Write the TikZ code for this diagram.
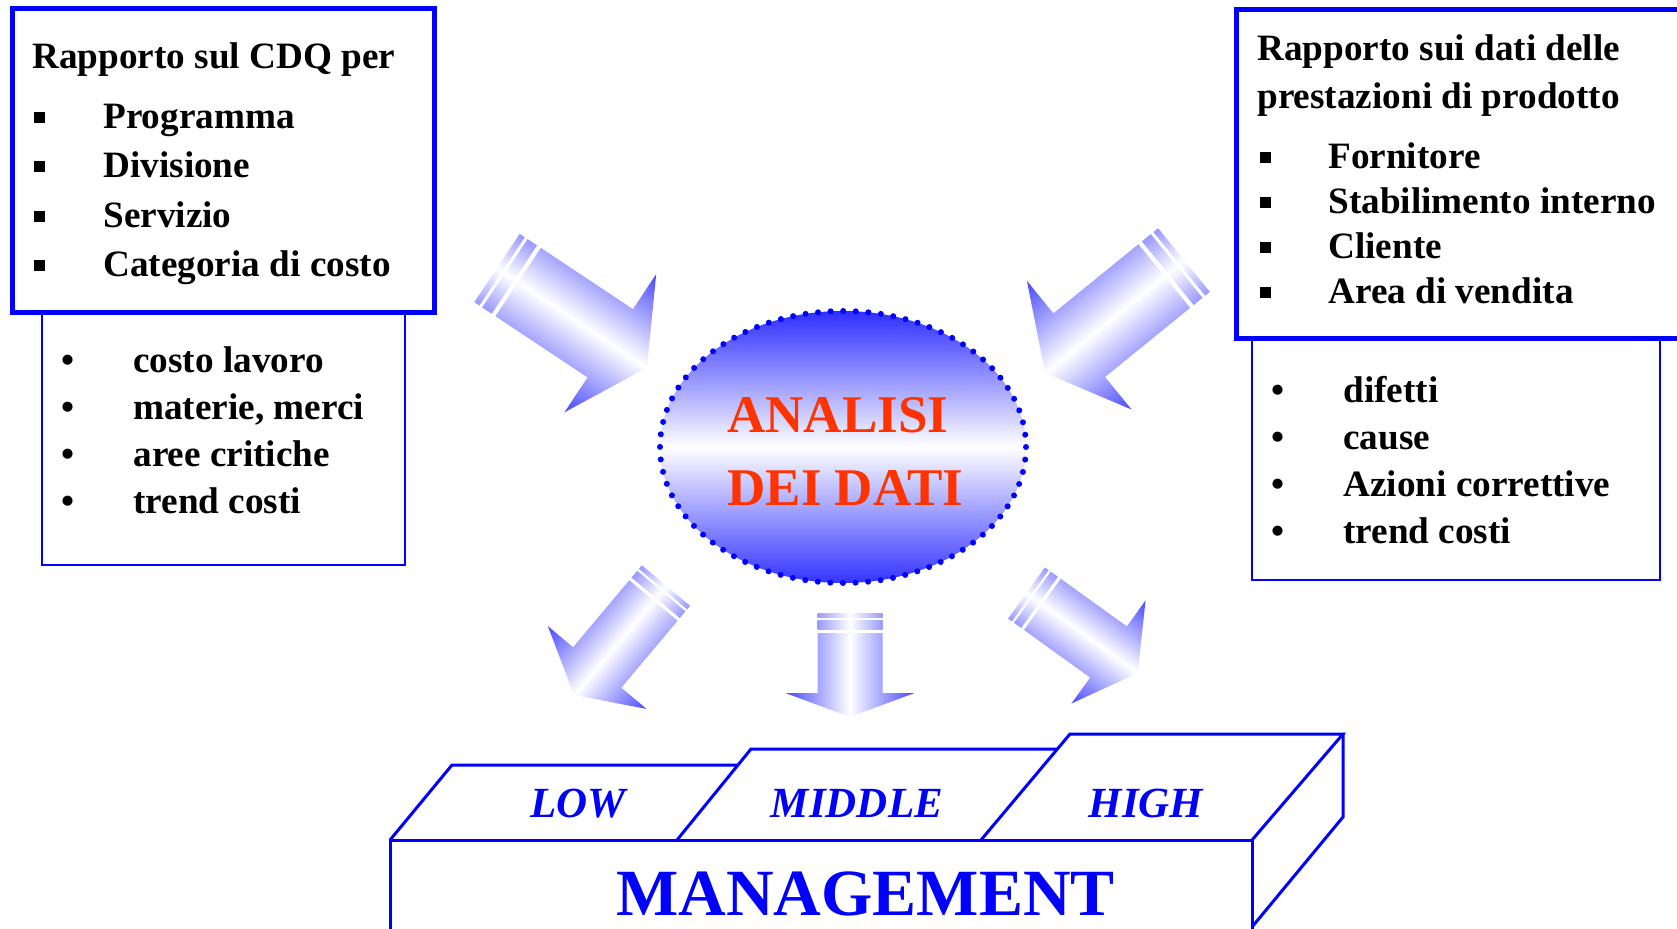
\documentclass[tikz,border=0pt]{standalone}
\usepackage{fontspec}
\setmainfont{Liberation Serif}
\usetikzlibrary{shapes.geometric}

\tikzset{
  thickbox/.style={draw=blue, line width=2.5pt},
  thinbox/.style={draw=blue, line width=1.3pt},
  boxtxt/.style={anchor=base west, inner sep=0pt, font=\fontsize{18.6}{22}\selectfont\bfseries},
  mgmtline/.style={draw=blue, line width=1.5pt, line join=miter},
  levtxt/.style={anchor=base, inner sep=0pt, text=blue, font=\fontsize{21.5}{25}\selectfont\bfseries\itshape},
  datitxt/.style={anchor=base west, inner sep=0pt, text=datired, font=\fontsize{26.5}{30}\selectfont\bfseries},
  dotellipse/.style={ellipse, minimum width=183pt, minimum height=136pt, inner sep=0pt,
    top color=blue!82, bottom color=blue!80, middle color=white},
  dotrim/.style={draw=blue, line width=3pt, dash pattern=on 0pt off 6.3pt, line cap=round},
  arrowfill/.style={top color=blue!72, bottom color=blue!72, middle color=white},
  stripefill/.style={top color=blue!40, bottom color=blue!40, middle color=white}
}
\definecolor{datired}{RGB}{255,51,0}

\newcommand{\sqbul}{\rule[2.7pt]{5.5pt}{5.5pt}}
% tail x, tail y, angle, length, shaft width, head width, head length
\newcommand{\fatarrow}[7]{%
  \begin{scope}[transform canvas={shift={(#1,#2)},rotate=#3}]
    \pgfmathsetmacro{\arW}{#5/2}
    \pgfmathsetmacro{\arH}{#6/2}
    \pgfmathsetmacro{\arA}{0.075*#5}
    \pgfmathsetmacro{\arB}{0.115*#5}
    \pgfmathsetmacro{\arC}{0.255*#5}
    \pgfmathsetmacro{\arT}{0.31*#5}
    \pgfmathsetmacro{\arK}{#4-#7}
    \shade[stripefill] (0,-\arW) rectangle (\arA,\arW);
    \shade[stripefill] (\arB,-\arW) rectangle (\arC,\arW);
    \shade[arrowfill] (\arT,-\arW) -- (\arK,-\arW) -- (\arK,-\arH) -- (#4,0)
      -- (\arK,\arH) -- (\arK,\arW) -- (\arT,\arW) -- cycle;
  \end{scope}}

\begin{document}
\begin{tikzpicture}[x=0.5pt, y=-0.5pt]
  \useasboundingbox (0,0) rectangle (1677,928);

  % Left report boxes
  \draw[thinbox] (42,312) rectangle (405,565);
  \draw[thickbox] (12,8.5) rectangle (434.5,312);
  \node[boxtxt] (cdq) at (32,68) {Rapporto sul CDQ per};
  \foreach \lbl [count=\i] in {Programma, Divisione, Servizio, Categoria di costo} {
    \node[boxtxt] (cdqsq\i) at (34,{128+49.5*(\i-1)}) {\sqbul};
    \node[boxtxt] (cdq\i) at (103,{128+49.5*(\i-1)}) {\lbl};
  }
  \foreach \lbl [count=\i] in {costo lavoro, {materie, merci}, aree critiche, trend costi} {
    \node[boxtxt] (costb\i) at (61,{372+47.3*(\i-1)}) {•};
    \node[boxtxt] (cost\i) at (133,{372+47.3*(\i-1)}) {\lbl};
  }

  % Right report boxes
  \draw[thinbox] (1252,338) rectangle (1660,580);
  \draw[thickbox] (1236.5,9) rectangle (1690,338);
  \node[boxtxt] (prest) at (1257,60) {Rapporto sui dati delle};
  \node[boxtxt] (prest2) at (1257,108) {prestazioni di prodotto};
  \foreach \lbl [count=\i] in {Fornitore, Stabilimento interno, Cliente, Area di vendita} {
    \node[boxtxt] (prestsq\i) at (1260,{168+45*(\i-1)}) {\sqbul};
    \node[boxtxt] (prest\i) at (1328,{168+45*(\i-1)}) {\lbl};
  }
  \foreach \lbl [count=\i] in {difetti, cause, Azioni correttive, trend costi} {
    \node[boxtxt] (difb\i) at (1271,{402+47*(\i-1)}) {•};
    \node[boxtxt] (dif\i) at (1343,{402+47*(\i-1)}) {\lbl};
  }

  % Arrows
  \fatarrow{497}{268}{-33.6}{180}{82}{166}{44}
  \fatarrow{1184}{260}{-140.9}{179}{82}{166}{44}
  \fatarrow{666}{585.5}{-130}{143}{63}{129}{36}
  \fatarrow{850}{613}{-90}{104}{65}{129}{24}
  \fatarrow{1026.5}{593}{-35.7}{137}{63}{127}{36}

  % Central ellipse
  \node[dotellipse] (dati) at (843,447) {};
  \draw[dotrim] (dati.center) ellipse [x radius=183, y radius=136];
  \node[datitxt] (analisi) at (727,432) {ANALISI};
  \node[datitxt] (deidati) at (727,505) {DEI DATI};

  % Management block
  \draw[mgmtline] (390,940) -- (390,840) -- (1252,840) -- (1252,940);
  \draw[mgmtline] (390,840) -- (452,765) -- (737,765);
  \draw[mgmtline] (677,840) -- (751,749) -- (1057,749);
  \draw[mgmtline] (981,840) -- (1070,734) -- (1343,734) -- (1252,840);
  \draw[mgmtline] (1343,734) -- (1343,817) -- (1252,927);
  \node[levtxt] (low) at (578,817) {LOW};
  \node[levtxt] (middle) at (857,817) {MIDDLE};
  \node[levtxt] (high) at (1146,817) {HIGH};
  \node[anchor=base, inner sep=0pt, text=blue, font=\fontsize{33}{38}\selectfont\bfseries] (mgmt) at (865.5,915) {MANAGEMENT};
\end{tikzpicture}
\end{document}
